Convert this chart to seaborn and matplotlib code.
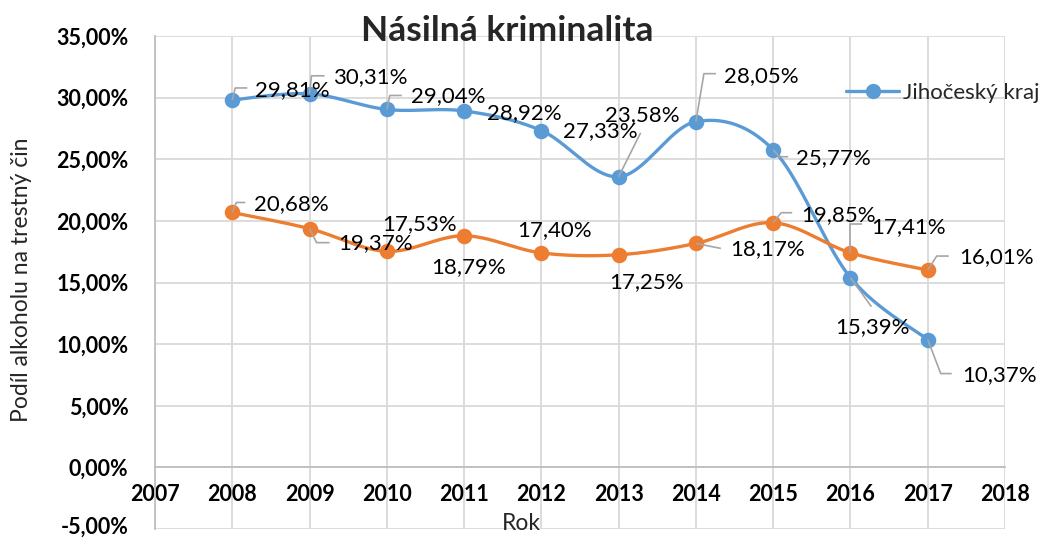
import numpy as np
import pandas as pd
import matplotlib
matplotlib.use("Agg")
import matplotlib.pyplot as plt
import matplotlib.transforms as mtransforms
from matplotlib.lines import Line2D
import seaborn as sns

# ---------------- data ----------------
years = [2008, 2009, 2010, 2011, 2012, 2013, 2014, 2015, 2016, 2017]
jihocesky = [29.81, 30.31, 29.04, 28.92, 27.33, 23.58, 28.05, 25.77, 15.39, 10.37]
druha_rada = [20.68, 19.37, 17.53, 18.79, 17.40, 17.25, 18.17, 19.85, 17.41, 16.01]
series_names = ["Jihočeský kraj", "_druhá řada"]
title = "Násilná kriminalita"
x_label = "Rok"
y_label = "Podíl alkoholu na trestný čin"
x_ticks = list(range(2007, 2019))
y_ticks = [-5, 0, 5, 10, 15, 20, 25, 30, 35]

# ---------------- layout of data labels (pixel offsets from point) ----------------
# (text left dx, text center dy [image down positive], leader vertices or None)
blue_lab = [
    (23, -10, [(3, -12), (15, -12)]),
    (23, -17, [(2, -18), (15, -18)]),
    (24, -13, [(3, -14), (15, -14)]),
    (23, 2, None),
    (22, 1, None),
    (-14, -62, [(22, -44)]),
    (28, -46, [(8, -48), (20, -48)]),
    (23, 8, [(6, 7), (15, 7)]),
    (-15, 49, [(21, 29)]),
    (34, 36, [(13, 34), (24, 34)]),
]
orange_lab = [
    (22, -8, [(4, -10), (13, -10)]),
    (29, 14, [(7, 14), (20, 14)]),
    (-5, -27, None),
    (-33, 31, None),
    (-24, -23, None),
    (-9, 27, None),
    (34, 6, [(25, 5)]),
    (28, -8, [(8, -10), (19, -10)]),
    (21, -26, [(0, -29), (12, -29)]),
    (31, -13, [(9, -14), (21, -14)]),
]

BLUE = "#5b9bd5"
ORANGE = "#ed7d31"
GRID = "#d9d9d9"
AXIS = "#bfbfbf"
LEADER = "#a6a6a6"

sns.set_theme(style="white")
plt.rcParams["font.family"] = ["Lato", "DejaVu Sans"]

W, H = 1042, 539
fig = plt.figure(figsize=(W / 100, H / 100), dpi=100)
ax = fig.add_axes([155 / W, 1 - 529 / H, (1005 - 155) / W, (529 - 36) / H])


def smooth(xs, ys, n=40):
    """Excel-like smoothed line (Catmull-Rom Bezier)."""
    P = np.column_stack([xs, ys]).astype(float)
    Pe = np.vstack([P[0], P, P[-1]])
    out = []
    for i in range(len(P) - 1):
        p0, p1, p2, p3 = Pe[i], Pe[i + 1], Pe[i + 2], Pe[i + 3]
        b1 = p1 + (p2 - p0) / 6
        b2 = p2 - (p3 - p1) / 6
        t = np.linspace(0, 1, n)[:, None]
        seg = ((1 - t) ** 3) * p1 + 3 * ((1 - t) ** 2) * t * b1 + 3 * (1 - t) * t ** 2 * b2 + t ** 3 * p2
        out.append(seg if i == 0 else seg[1:])
    s = np.vstack(out)
    return s[:, 0], s[:, 1]


ax.set_xlim(2007, 2018)
ax.set_ylim(-5, 35)

for vals, col, z in [(jihocesky, BLUE, 2), (druha_rada, ORANGE, 3)]:
    sx, sy = smooth(years, vals)
    dfl = pd.DataFrame({"x": sx, "y": sy})
    sns.lineplot(data=dfl, x="x", y="y", ax=ax, color=col, linewidth=2.4,
                 sort=False, estimator=None, zorder=z)
    dfp = pd.DataFrame({"x": years, "y": vals})
    sns.scatterplot(data=dfp, x="x", y="y", ax=ax, color=col, s=125,
                    linewidth=0, zorder=z + 0.5)

# axes styling
ax.set_xticks(x_ticks)
ax.set_yticks(y_ticks)
ax.set_yticklabels([f"{v:.2f}%".replace(".", ",") for v in y_ticks])
ax.grid(True, color=GRID, linewidth=1.3)
ax.set_axisbelow(True)
for sp in ["top", "right"]:
    ax.spines[sp].set_visible(False)
ax.spines["bottom"].set_position(("data", 0))
ax.spines["bottom"].set_color(AXIS)
ax.spines["left"].set_color(AXIS)
ax.spines["bottom"].set_linewidth(1.3)
ax.spines["left"].set_linewidth(1.3)
ax.tick_params(axis="both", which="both", length=5, width=1.3, color=AXIS,
               direction="out", labelsize=15.5, labelcolor="black")
ax.tick_params(axis="y", pad=14)
ax.tick_params(axis="x", pad=7)
for lab in ax.get_xticklabels() + ax.get_yticklabels():
    lab.set_fontweight("bold")
# keep the lowest y tick label inside the figure
low = ax.get_yticklabels()[0]
low.set_transform(low.get_transform() + mtransforms.ScaledTranslation(0, 4 / 100, fig.dpi_scale_trans))
ax.set_xlabel("")
ax.set_ylabel("")

# data labels with leader lines
fig.canvas.draw()
to_disp = ax.transData.transform
to_data = ax.transData.inverted().transform
for vals, labs in [(jihocesky, blue_lab), (druha_rada, orange_lab)]:
    for x, v, (dx, dy, leader) in zip(years, vals, labs):
        txt = f"{v:.2f}%".replace(".", ",")
        ax.annotate(txt, xy=(x, v), xycoords="data", xytext=(dx, -dy),
                    textcoords="offset pixels", ha="left", va="center",
                    fontsize=16, color="black", zorder=6)
        if leader:
            px, py = to_disp((x, v))
            pts = [(px, py)] + [(px + a, py - b) for a, b in leader]
            dpts = to_data(np.array(pts))
            ax.plot(dpts[:, 0], dpts[:, 1], color=LEADER, linewidth=1.2,
                    zorder=5, solid_capstyle="butt")

# legend (first series only)
handle = Line2D([0], [0], color=BLUE, linewidth=2.4, marker="o",
                markersize=11, markeredgewidth=0)
fig.legend([handle], [series_names[0]], loc="center left",
           bbox_to_anchor=(846 / W, 1 - 93 / H), bbox_transform=fig.transFigure,
           frameon=False, fontsize=16, handlelength=2.4, handletextpad=0.15,
           borderpad=0, borderaxespad=0)

fig.text(507 / W, 1 - 31 / H, title, ha="center", va="center",
         fontsize=25.5, fontweight="bold")
fig.text(22 / W, 1 - 280 / H, y_label, ha="center", va="center",
         rotation=90, fontsize=16.5)
fig.text(521 / W, 1 - 524 / H, x_label, ha="center", va="center", fontsize=16.5)

fig.savefig("out.png", dpi=100)
